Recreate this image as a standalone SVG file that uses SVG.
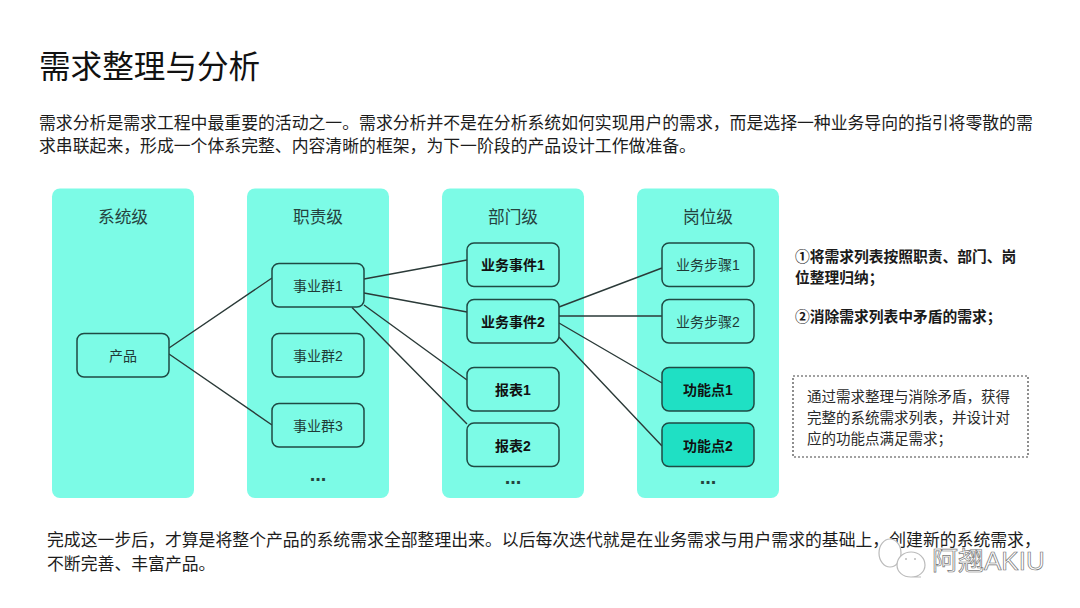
<svg xmlns="http://www.w3.org/2000/svg" width="1080" height="608" viewBox="0 0 1080 608">
<style>
text{font-family:"Liberation Sans","Noto Sans CJK SC",sans-serif;fill:#1c1c1c}
.body{font-size:16.85px}
.panel{fill:#7cfbe6}
.head{font-size:16.700px;fill:#24423e;text-anchor:middle}
.node{fill:#7cfbe6;stroke:#1f4a44;stroke-width:1.5}
.dark{fill:#1fe0c4}
.lbl{font-size:14px;fill:#1f3a36;text-anchor:middle}
.b{font-weight:700;fill:#111}
.con{stroke:#2b3a38;stroke-width:1.4;fill:none}
.dots{font-size:20px;font-weight:700;fill:#24423e;text-anchor:middle}
.note{font-size:14.750px;font-weight:700;fill:#1a1a1a}
.n2{font-size:14.500px;fill:#2a2a2a}
.wm{font-size:26px;fill:#fff;stroke:#777;stroke-width:.7}
.wi{fill:#fff;stroke:#bbb;stroke-width:1.2}
</style>
<rect width="1080" height="608" fill="#fff"/>
<text x="39" y="78" font-size="31.600" style="fill:#111">需求整理与分析</text>
<text class="body" x="39" y="129">需求分析是需求工程中最重要的活动之一。需求分析并不是在分析系统如何实现用户的需求，而是选择一种业务导向的指引将零散的需</text>
<text class="body" x="39" y="152">求串联起来，形成一个体系完整、内容清晰的框架，为下一阶段的产品设计工作做准备。</text>
<g id="panels">
<rect class="panel" x="52" y="188.500" width="142" height="309.500" rx="8"/>
<rect class="panel" x="247" y="188.500" width="142" height="309.500" rx="8"/>
<rect class="panel" x="442" y="188.500" width="142" height="309.500" rx="8"/>
<rect class="panel" x="637" y="188.500" width="142" height="309.500" rx="8"/>
<text class="head" x="123" y="223">系统级</text>
<text class="head" x="318" y="223">职责级</text>
<text class="head" x="513" y="223">部门级</text>
<text class="head" x="708" y="223">岗位级</text>
<text class="dots" x="318" y="481">...</text>
<text class="dots" x="513" y="484">...</text>
<text class="dots" x="708" y="484">...</text>
</g>
<g id="connectors">
<path class="con" d="M169 348L272 278M169 354L272 425M364 279L467 260M364 293L467 312M364 305L467 380M352 307.500L467 424M559 307L662 268M559 316L662 316M559 323L662 383M559 337L662 446"/>
</g>
<g id="n-product"><rect class="node" x="77" y="333.500" width="92" height="43.500" rx="7"/><text class="lbl" x="123" y="361">产品</text></g>
<g id="n-g1"><rect class="node" x="272" y="263.500" width="92" height="43.500" rx="7"/><text class="lbl" x="318" y="291">事业群1</text></g>
<g id="n-g2"><rect class="node" x="272" y="333.500" width="92" height="43.500" rx="7"/><text class="lbl" x="318" y="361">事业群2</text></g>
<g id="n-g3"><rect class="node" x="272" y="403.500" width="92" height="43.500" rx="7"/><text class="lbl" x="318" y="431">事业群3</text></g>
<g id="n-e1"><rect class="node" x="467" y="243" width="92" height="43.500" rx="7"/><text class="lbl b" x="513" y="270">业务事件1</text></g>
<g id="n-e2"><rect class="node" x="467" y="299.500" width="92" height="43.500" rx="7"/><text class="lbl b" x="513" y="327">业务事件2</text></g>
<g id="n-r1"><rect class="node" x="467" y="367.500" width="92" height="43.500" rx="7"/><text class="lbl b" x="513" y="395">报表1</text></g>
<g id="n-r2"><rect class="node" x="467" y="423" width="92" height="43.500" rx="7"/><text class="lbl b" x="513" y="451">报表2</text></g>
<g id="n-s1"><rect class="node" x="662" y="243" width="92" height="43.500" rx="7"/><text class="lbl" x="708" y="270">业务步骤1</text></g>
<g id="n-s2"><rect class="node" x="662" y="299.500" width="92" height="43.500" rx="7"/><text class="lbl" x="708" y="327">业务步骤2</text></g>
<g id="n-f1"><rect class="node dark" x="662" y="367.500" width="92" height="43.500" rx="7"/><text class="lbl b" x="708" y="395">功能点1</text></g>
<g id="n-f2"><rect class="node dark" x="662" y="423" width="92" height="43.500" rx="7"/><text class="lbl b" x="708" y="451">功能点2</text></g>
<g id="notes">
<text class="note" x="795" y="262">①将需求列表按照职责、部门、岗</text>
<text class="note" x="795" y="283">位整理归纳；</text>
<text class="note" x="795" y="322">②消除需求列表中矛盾的需求；</text>
<rect x="793" y="376" width="235" height="81" fill="none" stroke="#444" stroke-width="1.2" stroke-dasharray="2 2"/>
<text class="n2" x="807" y="402">通过需求整理与消除矛盾，获得</text>
<text class="n2" x="807" y="423">完整的系统需求列表，并设计对</text>
<text class="n2" x="807" y="444">应的功能点满足需求；</text>
</g>
<text class="body" x="47" y="546">完成这一步后，才算是将整个产品的系统需求全部整理出来。以后每次迭代就是在业务需求与用户需求的基础上，创建新的系统需求，</text>
<text class="body" x="47" y="570">不断完善、丰富产品。</text>
<g id="watermark">
<ellipse class="wi" cx="890" cy="553" rx="11" ry="14"/>
<path class="wi" d="M897 565C897 557 904 552 911 552C919 552 925 558 925 565C925 572 919 577 911 577L921 577L921 577L911 577C903 577 897 572 897 565Z"/>
<circle cx="906" cy="559" r="1" fill="#bbb"/><circle cx="915" cy="559" r="1" fill="#bbb"/>
<text class="wm" x="932" y="570">阿翘AKIU</text>
</g>
</svg>
